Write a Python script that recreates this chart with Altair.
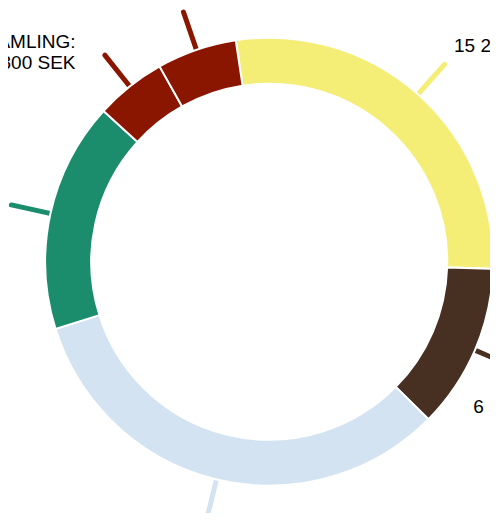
import math
import altair as alt
import pandas as pd

# ---- data ----
categories = ["Gul", "Brun", "Ljusblå", "Grön", "Insamling", "Röd"]
values = [15280, 6520, 17930, 9090, 2800, 3150]
labels = ["15 280 SEK", "6 350 SEK", "", "", "INSAMLING:\n2 800 SEK", ""]

# ---- styles / layout ----
colors = ["#f5ee76", "#472f22", "#d3e3f1", "#1b8c6c", "#8b1600", "#8b1600"]
label_dx = [9.5, -38.4, 0, 0, -29.3, 0]
label_dy = [-12.8, 46.7, 0, 0, -7.6, 0]
label_align = ["left", "left", "left", "left", "right", "left"]

W, H = 482, 505
CX, CY = 261.2, 253.7          # donut centre inside the plot area
R_OUT, R_IN = 224, 178
LINE_R0, LINE_R1 = 220, 264
START = -8.6 * math.pi / 180   # rotation of first slice

df = pd.DataFrame({
    "category": categories,
    "value": values,
    "label": labels,
    "order": list(range(len(categories))),
    "ldx": label_dx,
    "ldy": label_dy,
    "align": label_align,
})

xscale = alt.Scale(domain=[-CX, W - CX], range=[0, W], nice=False, zero=False)
yscale = alt.Scale(domain=[CY - H, CY], range=[H, 0], nice=False, zero=False)
cscale = alt.Scale(domain=categories, range=colors)

base = (
    alt.Chart(df)
    .transform_window(cum="sum(value)", sort=[alt.SortField("order")], frame=[None, 0])
    .transform_joinaggregate(total="sum(value)")
    .transform_calculate(
        a0=f"{START} + 2*PI*(datum.cum - datum.value)/datum.total",
        a1=f"{START} + 2*PI*datum.cum/datum.total",
    )
    .transform_calculate(mid="(datum.a0 + datum.a1)/2")
    .transform_calculate(
        lx0=f"{LINE_R0}*sin(datum.mid)",
        ly0=f"{LINE_R0}*cos(datum.mid)",
        lx1=f"{LINE_R1}*sin(datum.mid)",
        ly1=f"{LINE_R1}*cos(datum.mid)",
    )
    .transform_calculate(
        tx="datum.lx1 + datum.ldx",
        ty="datum.ly1 - datum.ldy",
    )
)

lines = base.mark_rule(strokeWidth=5, strokeCap="round").encode(
    x=alt.X("lx0:Q", scale=xscale, axis=None),
    y=alt.Y("ly0:Q", scale=yscale, axis=None),
    x2="lx1:Q",
    y2="ly1:Q",
    color=alt.Color("category:N", scale=cscale, legend=None),
)

ring = base.mark_arc(radius=R_OUT, radius2=R_IN, stroke="white", strokeWidth=2).encode(
    x=alt.X(datum=0, type="quantitative", scale=xscale, axis=None),
    y=alt.Y(datum=0, type="quantitative", scale=yscale, axis=None),
    theta=alt.Theta("a0:Q", scale=None),
    theta2="a1:Q",
    color=alt.Color("category:N", scale=cscale, legend=None),
)

text_kw = dict(font="Liberation Sans", fontSize=19, lineBreak="\n", lineHeight=21.5,
               baseline="alphabetic", color="black")

texts_left = base.transform_filter("datum.align == 'left' && datum.label != ''").mark_text(
    align="left", **text_kw
).encode(
    x=alt.X("tx:Q", scale=xscale, axis=None),
    y=alt.Y("ty:Q", scale=yscale, axis=None),
    text="label:N",
)

texts_right = base.transform_filter("datum.align == 'right' && datum.label != ''").mark_text(
    align="right", **text_kw
).encode(
    x=alt.X("tx:Q", scale=xscale, axis=None),
    y=alt.Y("ty:Q", scale=yscale, axis=None),
    text="label:N",
)

chart = (
    alt.layer(lines, ring, texts_left, texts_right)
    .properties(width=W, height=H, autosize=alt.AutoSizeParams(type="none"), padding=0)
    .configure_view(stroke=None)
)

chart.save("out.html", embed_options={"renderer": "svg", "actions": False})
